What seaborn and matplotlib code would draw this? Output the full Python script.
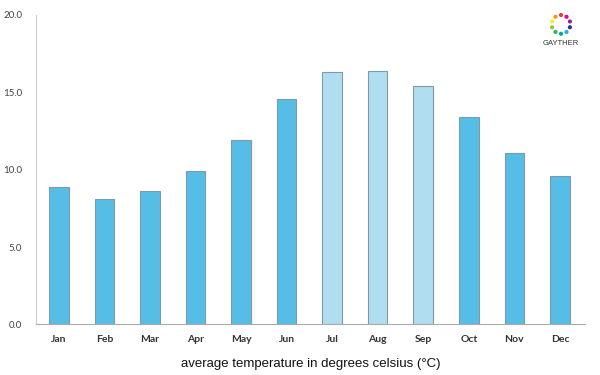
import matplotlib
matplotlib.use("Agg")
import matplotlib.pyplot as plt
import numpy as np
import pandas as pd
import seaborn as sns

months = ["Jan", "Feb", "Mar", "Apr", "May", "Jun", "Jul", "Aug", "Sep", "Oct", "Nov", "Dec"]
temps = [8.9, 8.1, 8.6, 9.9, 11.9, 14.6, 16.3, 16.4, 15.4, 13.4, 11.1, 9.6]
season = ["base"] * 6 + ["summer"] * 3 + ["base"] * 3

DARK = "#56bde6"
LIGHT = "#b0def1"

sns.set_style("white")
plt.rcParams["font.family"] = ["Lato", "DejaVu Sans"]

df = pd.DataFrame({"month": months, "temp": temps, "season": season})

fig = plt.figure(figsize=(6, 3.75), dpi=100)
ax = fig.add_axes([0.06, 0.135, 0.915, 0.825])

sns.barplot(
    data=df, x="month", y="temp", hue="season",
    palette={"base": DARK, "summer": LIGHT}, saturation=1,
    dodge=False, width=0.43, edgecolor="#7f9aa6", linewidth=0.8,
    legend=False, ax=ax,
)

ax.set_ylim(0, 20)
ax.set_xlim(-0.5, 11.55)
ax.set_yticks([0, 5, 10, 15, 20])
ax.set_yticklabels([f"{v:.1f}" for v in [0, 5, 10, 15, 20]], fontsize=7, color="#444444")
ax.set_xticks(range(len(months)))
ax.set_xticklabels(months, fontsize=7.5, fontweight="bold", color="#333333")
ax.tick_params(axis="both", length=0, pad=8)
ax.tick_params(axis="y", pad=10)
ax.set_xlabel("average temperature in degrees celsius (°C)", fontsize=9.5,
              family=["Liberation Sans", "DejaVu Sans"], color="#111111", labelpad=10)
ax.set_ylabel("")
sns.despine(ax=ax)
ax.spines["left"].set_color("#cccccc")
ax.spines["bottom"].set_color("#aaaaaa")

# logo: ring of coloured dots with the name underneath
logo_colors = ["#e8412c", "#f7941d", "#f9ed32", "#8dc63f", "#39b54a", "#00a99d",
               "#27aae1", "#2e3192", "#92278f", "#ec008c"]
logo = fig.add_axes([0.905, 0.895, 0.06, 0.08])
logo.set_xlim(-1.6, 1.6)
logo.set_ylim(-1.6, 1.6)
logo.set_aspect("equal")
logo.axis("off")
angles = np.linspace(0, 2 * np.pi, len(logo_colors), endpoint=False) + np.pi / 2
logo.scatter(np.cos(angles), np.sin(angles), s=9, c=logo_colors, linewidths=0)
fig.text(0.935, 0.885, "GAYTHER", ha="center", va="center", fontsize=5.5,
         color="#333333", family=["Liberation Sans", "DejaVu Sans"])

fig.savefig("out.png", dpi=100)
